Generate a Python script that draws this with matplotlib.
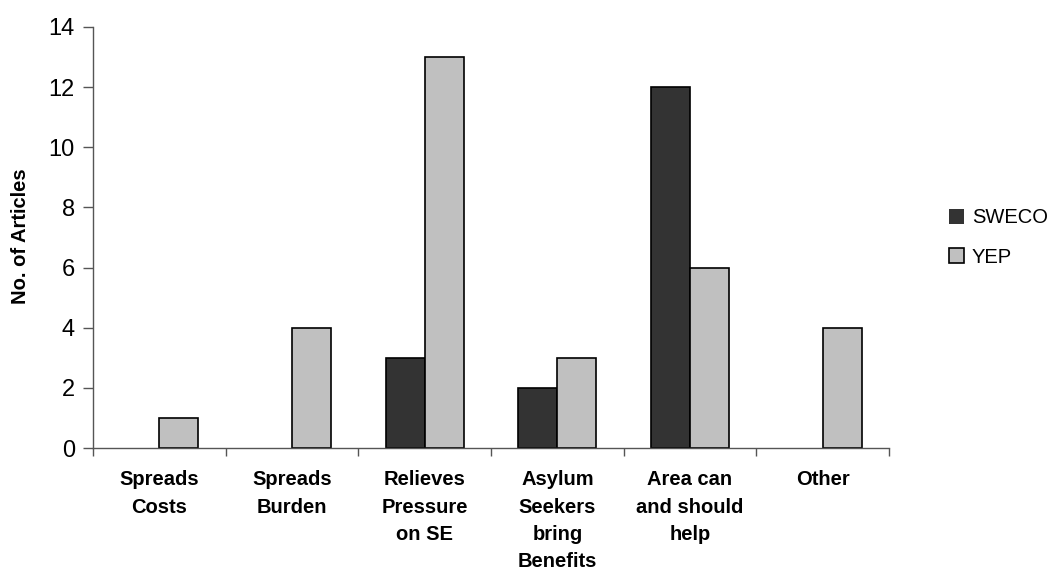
import numpy as np
import matplotlib.pyplot as plt

categories = ['Spreads\nCosts', 'Spreads\nBurden', 'Relieves\nPressure\non SE',
              'Asylum\nSeekers\nbring\nBenefits', 'Area can\nand should\nhelp', 'Other']
sweco = [0, 0, 3, 2, 12, 0]
yep = [1, 4, 13, 3, 6, 4]

plt.rcParams['font.family'] = ['Liberation Sans', 'DejaVu Sans']

fig = plt.figure(figsize=(10.59, 5.73), dpi=100)
ax = fig.add_axes([0.0878, 0.218, 0.7517, 0.735])

x = np.arange(len(categories))
w = 0.295
b1 = ax.bar(x - w / 2, sweco, w, color='#333333', edgecolor='black', linewidth=1.2, label='SWECO')
b2 = ax.bar(x + w / 2, yep, w, color='#C0C0C0', edgecolor='black', linewidth=1.2, label='YEP')

# empty bars should not leave an outline on the baseline
for bars in (b1, b2):
    for p in bars:
        if p.get_height() == 0:
            p.set_linewidth(0)

ax.set_xlim(-0.5, len(categories) - 0.5)
ax.set_ylim(0, 14)
ax.set_yticks(range(0, 15, 2))
ax.tick_params(axis='y', labelsize=17, length=7, width=1, color='#555555', pad=6)

# category labels sit between the boundary ticks
ax.set_xticks(np.arange(len(categories) + 1) - 0.5)
ax.set_xticklabels([])
ax.set_xticks(x, minor=True)
ax.set_xticklabels(categories, minor=True, fontsize=14.5, fontweight='bold', linespacing=1.55, va='top')
ax.tick_params(axis='x', which='major', length=6, width=1, color='#555555')
ax.tick_params(axis='x', which='minor', length=0, pad=16)

for side in ['top', 'right']:
    ax.spines[side].set_visible(False)
for side in ['left', 'bottom']:
    ax.spines[side].set_color('#555555')
    ax.spines[side].set_linewidth(1)

fig.text(0.019, 0.5875, 'No. of Articles', fontsize=14.5, fontweight='bold',
         rotation=90, ha='center', va='center')

ax.legend(loc='center left', bbox_to_anchor=(1.052, 0.5), frameon=False, fontsize=14.5,
          handlelength=0.75, handleheight=0.75, handletextpad=0.4, labelspacing=1.0)

fig.savefig('out.png', dpi=100)
